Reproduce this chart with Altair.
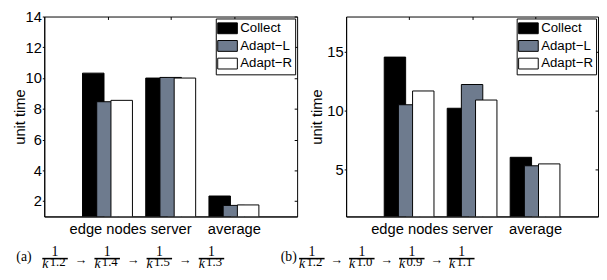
import altair as alt
import pandas as pd

# ---------------- data ----------------
groups = ["edge nodes", "server", "average"]
series = ["Collect", "Adapt\u2212L", "Adapt\u2212R"]
series_colors = ["#000000", "#6E7B8E", "#FFFFFF"]

a_collect = [10.32, 10.00, 2.33]
a_adapt_l = [8.46, 10.04, 1.72]
a_adapt_r = [8.55, 10.00, 1.75]

b_collect = [14.55, 10.20, 6.03]
b_adapt_l = [10.50, 12.22, 5.31]
b_adapt_r = [11.67, 10.90, 5.47]

a_yticks = [2, 4, 6, 8, 10, 12, 14]
b_yticks = [5, 10, 15]
a_ymax = 14
b_ymax = 18

y_title = "unit time"
cap_labels = ["(a)", "(b)"]
a_exponents = ["1.2", "1.4", "1.5", "1.3"]
b_exponents = ["1.2", "1.0", "0.9", "1.1"]

# ---------------- layout / style ----------------
FONT = "Liberation Sans"
SERIF = "Liberation Serif"
FS = 15
PLOT_H = 204
CAP_W = 480
cap_origin = [11.0, 273.0]     # centre of first fraction, per panel
cap_step = [53.2, 51.0]        # distance between fractions, per panel
cap_label_shift = [-31.7, -23.5]


def panel(vals, ymax, yticks, width, title_x):
    rows = []
    for s_i, (s, v) in enumerate(zip(series, vals)):
        for g_i, (g, val) in enumerate(zip(groups, v)):
            rows.append({"g": g_i + 1, "s": s_i, "series": s, "group": g, "value": val})
    df = pd.DataFrame(rows)
    xscale = alt.Scale(domain=[0, 4], nice=False, zero=False)
    yscale = alt.Scale(domain=[1, ymax], nice=False, zero=False)
    base = alt.Chart(df).transform_calculate(
        x0="datum.g + (datum.s - 1) * 0.225 - 0.17",
        x1="datum.g + (datum.s - 1) * 0.225 + 0.17",
    )
    label_expr = "[" + ",".join(repr(t) for t in [""] + groups) + "][datum.value]"
    bars = base.mark_bar(stroke="black", strokeWidth=1, clip=True).encode(
        x=alt.X("x0:Q", scale=xscale, axis=alt.Axis(
            values=[1, 2, 3], labelExpr=label_expr, ticks=False, labelPadding=5,
            domainColor="black", domainWidth=1, labelFontSize=FS, labelColor="black",
            labelFont=FONT, grid=False, title=None, zindex=1, labelFlush=False,
            labelOverlap=False)),
        x2="x1:Q",
        y=alt.Y("value:Q", scale=yscale, axis=alt.Axis(
            values=yticks, tickSize=2, tickColor="black", labelPadding=1,
            domainColor="black", domainWidth=1, labelFontSize=FS, labelColor="black",
            labelFont=FONT, grid=False, title=y_title, titleX=title_x,
            titleBaseline="alphabetic", titleFontSize=FS, titleFontWeight="normal",
            titleFont=FONT, titleColor="black", zindex=1, labelFlush=False,
            labelOverlap=False)),
        y2=alt.datum(0),
        color=alt.Color("series:N", scale=alt.Scale(domain=series, range=series_colors),
                        legend=alt.Legend(
                            orient="top-right", offset=2, title=None, fillColor="white",
                            strokeColor="black", padding=3,
                            symbolType="M-1.54,-0.85H1.54V0.85H-1.54Z", symbolSize=169,
                            symbolOffset=2,
                            symbolStrokeColor="black", symbolStrokeWidth=1,
                            symbolOpacity=1, labelFont=FONT, labelFontSize=13.5,
                            labelColor="black", rowPadding=2, labelOffset=6,
                            cornerRadius=0)),
    )
    ticks_layer = base.mark_point(opacity=0, size=1).encode(
        x=alt.X("x0:Q", scale=xscale, axis=alt.Axis(
            orient="top", values=[1, 2, 3], labels=False, domain=False, tickSize=3,
            offset=-3, tickColor="black", grid=False, title=None)),
        y=alt.Y("value:Q", scale=yscale, axis=alt.Axis(
            orient="right", values=yticks, labels=False, domain=False, tickSize=3,
            offset=-3, tickColor="black", grid=False, title=None)),
    )
    return alt.layer(bars, ticks_layer).resolve_axis(
        x="independent", y="independent"
    ).properties(width=width, height=PLOT_H,
                 view=alt.ViewBackground(stroke="black", strokeWidth=1))


panel_a = panel([a_collect, a_adapt_l, a_adapt_r], a_ymax, a_yticks, 258, -20.3)
panel_b = panel([b_collect, b_adapt_l, b_adapt_r], b_ymax, b_yticks, 257, -25.3)

# ---------------- captions ----------------
frac_rows, arrow_rows, label_rows = [], [], []
for p, exps in enumerate([a_exponents, b_exponents]):
    for k, e in enumerate(exps):
        frac_rows.append({"p": p, "slot": k, "exp": e})
        if k < len(exps) - 1:
            arrow_rows.append({"p": p, "slot": k + 0.5})
    label_rows.append({"p": p, "label": cap_labels[p]})

cx_expr = (f"datum.p == 0 ? {cap_origin[0]} + {cap_step[0]} * datum.slot"
           f" : {cap_origin[1]} + {cap_step[1]} * datum.slot")
lx_expr = (f"datum.p == 0 ? {cap_origin[0] + cap_label_shift[0]}"
           f" : {cap_origin[1] + cap_label_shift[1]}")
cscale = alt.Scale(domain=[0, CAP_W], nice=False, zero=False)
X = lambda f: alt.X(f, scale=cscale, axis=None)

fr = alt.Chart(pd.DataFrame(frac_rows)).transform_calculate(
    cx=cx_expr, xl="datum.cx - 13", xr="datum.cx + 13")
num = fr.mark_text(text="1", font=SERIF, fontSize=14, align="center",
                   baseline="alphabetic", color="black").encode(
    x=X("cx:Q"), y=alt.value(15.5))
fbar = fr.mark_rule(strokeWidth=1.6, color="black").encode(
    x=X("xl:Q"), x2="xr:Q", y=alt.value(18))
kden = fr.mark_text(text="k", font=SERIF, fontSize=14, fontStyle="italic",
                    align="left", dx=-13, baseline="alphabetic",
                    color="black").encode(x=X("cx:Q"), y=alt.value(28))
eden = fr.mark_text(font=SERIF, fontSize=13, align="left", dx=-5.5,
                    baseline="alphabetic", color="black").encode(
    x=X("cx:Q"), y=alt.value(26), text="exp:N")
arr = alt.Chart(pd.DataFrame(arrow_rows)).transform_calculate(cx=cx_expr).mark_text(
    text="\u2192", font=SERIF, fontSize=13, align="center", baseline="middle",
    color="black"
).encode(x=X("cx:Q"), y=alt.value(19))
lab = alt.Chart(pd.DataFrame(label_rows)).transform_calculate(cx=lx_expr).mark_text(
    font=SERIF, fontSize=14, align="center", baseline="alphabetic", color="black"
).encode(x=X("cx:Q"), y=alt.value(20), text="label:N")

caption = alt.layer(num, fbar, kden, eden, arr, lab).properties(
    width=CAP_W, height=28, view=alt.ViewBackground(stroke=None))

row = alt.hconcat(panel_a, panel_b, spacing=11).resolve_legend(color="independent")
chart = alt.vconcat(row, caption, spacing=4).properties(
    padding={"left": 4, "top": -2, "right": 0, "bottom": 0}
).configure(font=FONT).configure_view(stroke=None)

chart.save("out.html", embed_options={"renderer": "svg", "actions": False})
